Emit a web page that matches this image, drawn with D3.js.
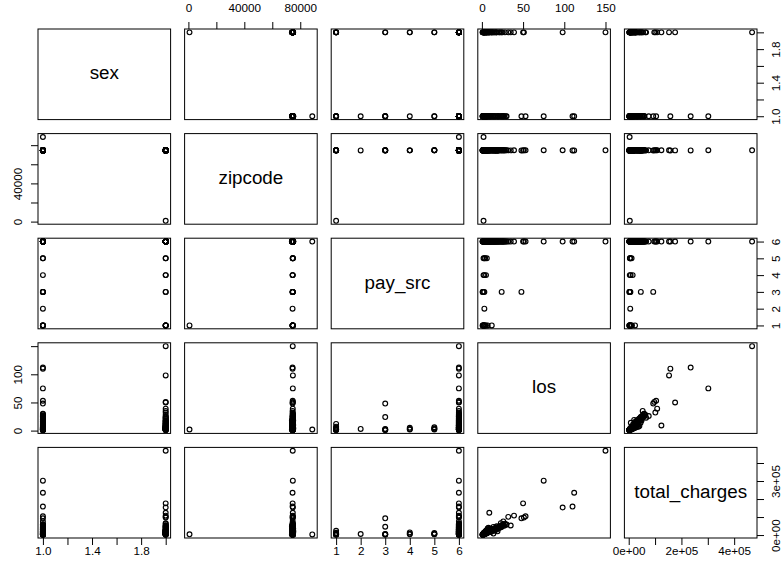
<!DOCTYPE html>
<html>
<head>
<meta charset="utf-8">
<script src="https://cdn.jsdelivr.net/npm/d3@7"></script>
<style>
  body { margin: 0; background: #fff; }
  text { font-family: "Liberation Sans", Arial, Helvetica, sans-serif; fill: #000; }
</style>
</head>
<body>
<svg id="chart"></svg>
<script>
// one entry per patient record, all arrays aligned by index
const varNames = ['sex', 'zipcode', 'pay_src', 'los', 'total_charges'];

const sex = [2,1,2,1,1,2,1,2,1,2,2,2,2,1,2,1,2,1,2, 1, 1,2,2, 1,1,2,2, 1,2,2,1, 1,1,1,2,2,2,1,
  1,2,1,2,1,2,1,1,2,2, 1,2,1,1,2,1,2,2,1,2, 1,2,1,1,2,2,1,1,2,1, 2,1,2,1,2,2,1,1,2,1, 2,1,1,2,1,2,1,2,1,2, 1,
  2,1,2,1,2,1,1,2,1,2, 2,1,1,2,1,2,2,1,2,1, 1,2,1,2,2,1,2,1,2,1, 1, 1,2,2,1,1,2,1,2,1];

const zipcode = [74620,74510,74730,74480,74690,74550,74600,74700,74520,74640,74580,74660,74530,74610,74570,74590,74650,88600,800,
  74500, 74560,74560,74560, 74620,74610,74700,74690, 74540,74600,74670,74580, 74520,74630,74560,74590,74710,74540,74680,
  74601,74604,74631,74653,74501,74012,74126,74133,74701,74743, 74801,74820,74501,74955,74464,74631,74630,74578,74601,74653,
  74604,74804,74501,74467,74501,74820,74955,74601,74631,74743, 74653,74133,74604,74501,74701,74012,74464,74820,74601,74578,
  74631,74653,74743,74501,74604,74801,74955,74126,74601,74630, 74701,
  74350,74820,74601,74436,74653,74701,74501,74578,74960,74604, 74631,74743,74401,74862,74501,74653,74601,74133,74820,74701,
  74578,74631,74604,74467,74955,74501,74653,74743,74601,74630, 74820, 74450,74631,74701,74501,74604,74653,74578,74820,74601];

const paySrc = [6,6,6,6,6,6,6,6,3,6,6,6,6,6,6,3,1,6,1, 2, 4,4,4, 5,5,5,5, 3,3,3,3, 1,1,1,1,1,1,1,
  6,6,6,6,6,6,6,6,6,6, 6,6,6,6,6,6,6,6,6,6, 6,6,6,6,6,6,6,6,6,6, 6,6,6,6,6,6,6,6,6,6, 6,6,6,6,6,6,6,6,6,6, 6,
  6,6,6,6,6,6,6,6,6,6, 6,6,6,6,6,6,6,6,6,6, 6,6,6,6,6,6,6,6,6,6, 6, 1,1,6,6,6,6,6,6,6];

const los = [150,110,98,112,75,50,53,51,48,39,32,9,35,26,23,24,12,2,2, 3, 3,5,2, 2,4,3,6, 1,2,3,1, 1,2,4,1,3,7,5,
  1,1,1,2,2,2,2,3,3,3, 3,4,4,4,4,5,5,5,6,6, 6,7,7,8,8,9,10,10,11,12, 13,14,15,16,17,18,19,20,21,22, 24,25,27,28,30,2,3,5,8,14, 19,
  1,2,2,3,3,4,4,5,5,6, 6,7,7,8,9,9,10,11,12,13, 14,15,16,17,18,20,21,23,25,26, 29, 2,3,4,5,6,8,10,12,16];

const totalCharges = [468000,158000,153000,235000,302000,176000,104000,97000,93000,108000,101000,124000,53000,76000,66000,46000,24000,3500,4200,
  5800, 7200,15000,4100, 4500,6800,5200,11000, 2500,4800,6500,3100, 2600,3900,8100,2400,6200,12500,9000,
  2300,3400,2700,4100,5600,3200,9500,6200,8900,4800, 14500,9300,7100,18800,15500,11200,21600,8400,14800,26900,
  12100,16300,31400,19800,40500,24100,21900,34700,16300,30800, 27400,45100,23200,38600,29000,48700,33200,44800,39500,51100,
  47300,56600,52200,63100,58500,9600,12400,17800,27500,8000, 20700,
  2900,3600,6800,5100,11800,7400,16200,9900,24600,12600, 20300,14100,36500,17200,19300,29800,23600,21400,26100,33400,
  29300,32800,28100,41900,35600,40200,45900,43800,54400,59800, 57300, 4400,5900,8700,10700,13300,16900,20800,24400,34300];

// tick positions and the labels R kept (blank = label dropped for overlap)
const sexTicks = [1, 1.2, 1.4, 1.6, 1.8, 2];
const sexLabels = ['1.0', '', '1.4', '', '1.8', ''];
const zipTicks = [0, 20000, 40000, 60000, 80000];
const zipTopLabels = ['0', '', '40000', '', '80000'];
const zipLeftLabels = ['0', '', '40000', '', ''];
const payTicks = [1, 2, 3, 4, 5, 6];
const payLabels = ['1', '2', '3', '4', '5', '6'];
const losTicks = [0, 50, 100, 150];
const losTopLabels = ['0', '50', '100', '150'];
const losLeftLabels = ['0', '50', '100', ''];
const chargeTicks = [0, 100000, 200000, 300000, 400000];
const chargeBottomLabels = ['0e+00', '', '2e+05', '', '4e+05'];
const chargeRightLabels = ['0e+00', '', '', '3e+05', ''];

const vars = [
  {values: sex, ticks: sexTicks, xLabels: sexLabels, yLabels: sexLabels},
  {values: zipcode, ticks: zipTicks, xLabels: zipTopLabels, yLabels: zipLeftLabels},
  {values: paySrc, ticks: payTicks, xLabels: payLabels, yLabels: payLabels},
  {values: los, ticks: losTicks, xLabels: losTopLabels, yLabels: losLeftLabels},
  {values: totalCharges, ticks: chargeTicks, xLabels: chargeBottomLabels, yLabels: chargeRightLabels}
];

const width = 783, height = 570;
const plotLeft = 38, plotTop = 29, gap = 14;
const n = varNames.length;
const panelW = (757 - plotLeft - gap * (n - 1)) / n;
const panelH = (538 - plotTop - gap * (n - 1)) / n;
const tickLen = 7;
const axisFont = 11.7;

const svg = d3.select('#chart').attr('width', width).attr('height', height);

// R style range: data extent padded by 4% each side
vars.forEach(v => {
  const ext = d3.extent(v.values);
  const r = ext[1] - ext[0];
  const dom = [ext[0] - 0.04 * r, ext[1] + 0.04 * r];
  v.x = d3.scaleLinear().domain(dom).range([0, panelW]);
  v.y = d3.scaleLinear().domain(dom).range([panelH, 0]);
});

const idx = d3.range(sex.length);

for (let i = 0; i < n; i++) {
  for (let j = 0; j < n; j++) {
    const g = svg.append('g')
      .attr('transform', `translate(${plotLeft + j * (panelW + gap)},${plotTop + i * (panelH + gap)})`);

    g.append('rect')
      .attr('width', panelW).attr('height', panelH)
      .attr('fill', 'none').attr('stroke', '#000').attr('stroke-width', 1);

    if (i === j) {
      g.append('text')
        .attr('x', panelW / 2).attr('y', panelH / 2)
        .attr('dy', '0.27em')
        .attr('text-anchor', 'middle')
        .style('font-size', '18.8px')
        .text(varNames[i]);
      continue;
    }

    const vx = vars[j], vy = vars[i];
    g.selectAll('circle')
      .data(idx)
      .join('circle')
      .attr('cx', k => vx.x(vx.values[k]))
      .attr('cy', k => vy.y(vy.values[k]))
      .attr('r', 2.4)
      .attr('fill', 'none')
      .attr('stroke', '#000')
      .attr('stroke-width', 1.15);
  }
}

function styleAxis(sel) {
  sel.select('.domain').remove();
  sel.attr('font-size', null).attr('font-family', null);
  sel.selectAll('.tick line').attr('stroke', '#000');
  sel.selectAll('.tick text').style('font-size', axisFont + 'px');
}

// x axes: alternate bottom / top
for (let j = 0; j < n; j++) {
  const v = vars[j];
  const x0 = plotLeft + j * (panelW + gap);
  const onTop = j % 2 === 1;
  const axis = (onTop ? d3.axisTop(v.x) : d3.axisBottom(v.x))
    .tickValues(v.ticks)
    .tickFormat((d, k) => v.xLabels[k])
    .tickSize(tickLen)
    .tickSizeOuter(0);
  const y0 = onTop ? plotTop : plotTop + (n - 1) * (panelH + gap) + panelH;
  const ag = svg.append('g').attr('transform', `translate(${x0},${y0})`).call(axis);
  styleAxis(ag);
  ag.selectAll('.tick text')
    .attr('dy', null)
    .attr('y', onTop ? -17.3 : 17);
}

// y axes: alternate right / left
for (let i = 0; i < n; i++) {
  const v = vars[i];
  const y0 = plotTop + i * (panelH + gap);
  const onLeft = i % 2 === 1;
  const axis = (onLeft ? d3.axisLeft(v.y) : d3.axisRight(v.y))
    .tickValues(v.ticks)
    .tickFormat((d, k) => v.yLabels[k])
    .tickSize(tickLen)
    .tickSizeOuter(0);
  const x0 = onLeft ? plotLeft : plotLeft + (n - 1) * (panelW + gap) + panelW;
  const ag = svg.append('g').attr('transform', `translate(${x0},${y0})`).call(axis);
  styleAxis(ag);
  ag.selectAll('.tick text')
    .attr('x', null).attr('dy', null)
    .attr('text-anchor', 'middle')
    .attr('transform', onLeft ? 'translate(-16.3,0) rotate(-90)' : 'translate(23,0) rotate(-90)');
}
</script>
</body>
</html>
